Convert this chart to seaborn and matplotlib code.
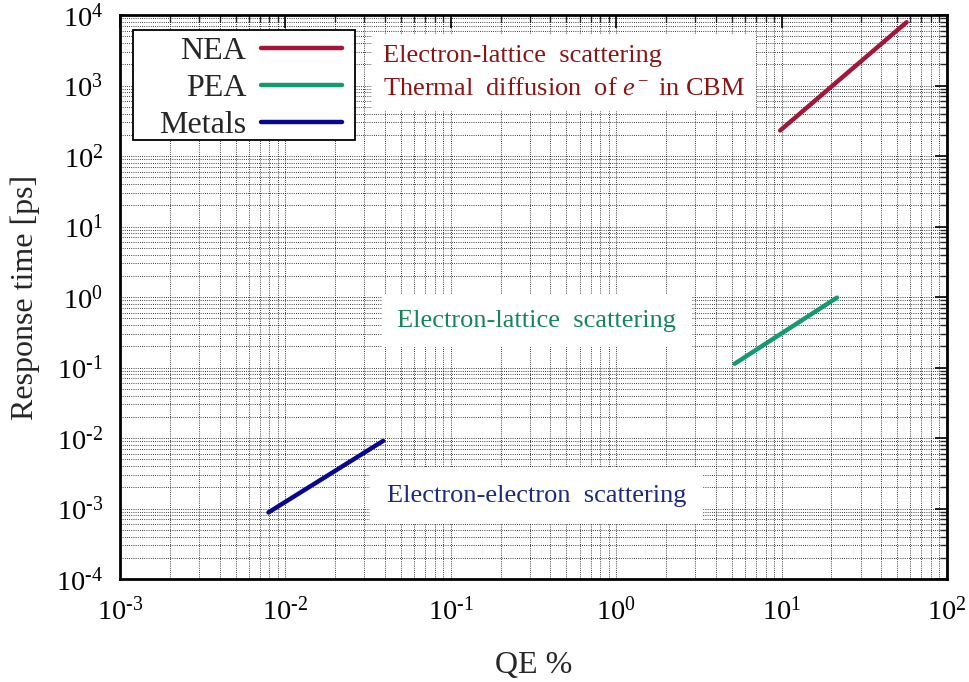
import numpy as np
import pandas as pd
import matplotlib
matplotlib.use("Agg")
import matplotlib.pyplot as plt
import seaborn as sns
from matplotlib.patches import Rectangle
from matplotlib.ticker import LogLocator, FuncFormatter, NullFormatter

# Response time vs. quantum efficiency for three photocathode classes (line endpoints)
materials = ["NEA", "NEA", "PEA", "PEA", "Metals", "Metals"]
qe_percent = [9.8, 57.0, 5.2, 21.6, 0.0079, 0.039]
response_ps = [230.0, 7900.0, 0.113, 0.98, 0.00088, 0.0091]

series_order = ["NEA", "PEA", "Metals"]
series_colors = {"NEA": "#a31638", "PEA": "#149a72", "Metals": "#07078f"}

x_ticks = [1e-3, 1e-2, 1e-1, 1e0, 1e1, 1e2]
y_ticks = [1e-4, 1e-3, 1e-2, 1e-1, 1e0, 1e1, 1e2, 1e3, 1e4]

df = pd.DataFrame({"material": materials, "qe": qe_percent, "time": response_ps})

sns.set_theme(style="white")
plt.rcParams["font.family"] = ["Liberation Serif", "DejaVu Serif"]
plt.rcParams["mathtext.fontset"] = "custom"
plt.rcParams["mathtext.rm"] = "Liberation Serif"
plt.rcParams["mathtext.it"] = "Liberation Serif:italic"
plt.rcParams["mathtext.bf"] = "Liberation Serif:bold"

fig = plt.figure(figsize=(9.69, 6.82), dpi=100)
ax = fig.add_axes([120 / 969, 1 - 579 / 682, 827 / 969, 564 / 682])

sns.lineplot(data=df, x="qe", y="time", hue="material", hue_order=series_order,
             palette=series_colors, linewidth=3.2, ax=ax, estimator=None,
             sort=False, units="material")

ax.set_xscale("log")
ax.set_yscale("log")
ax.set_xlim(x_ticks[0], x_ticks[-1])
ax.set_ylim(y_ticks[0], y_ticks[-1])
ax.set_xticks(x_ticks)
ax.set_yticks(y_ticks)
ax.xaxis.set_minor_locator(LogLocator(base=10, subs=np.arange(2, 10), numticks=20))
ax.yaxis.set_minor_locator(LogLocator(base=10, subs=np.arange(2, 10), numticks=20))
ax.xaxis.set_minor_formatter(NullFormatter())
ax.yaxis.set_minor_formatter(NullFormatter())


def pow10(v, _pos):
    e = int(round(np.log10(v)))
    return r"10$^{\mathrm{%d}}$" % e if e >= 0 else r"10$^{\text{-}%d}$" % (-e)


ax.xaxis.set_major_formatter(FuncFormatter(pow10))
ax.yaxis.set_major_formatter(FuncFormatter(pow10))

ax.grid(True, which="both", color="black", linestyle=(0, (1, 1.6)), linewidth=0.6)
ax.set_axisbelow(True)
for s in ax.spines.values():
    s.set_color("black")
    s.set_linewidth(2.0)

ax.tick_params(which="major", direction="in", length=9, width=1.2, top=True,
               right=True, labelsize=20.5, colors="black")
ax.tick_params(which="minor", direction="in", length=5, width=1.0, top=True,
               right=True)
ax.tick_params(axis="x", which="major", pad=13)
ax.tick_params(axis="y", which="major", pad=12)

ax.set_xlabel("QE %", fontsize=23, labelpad=18)
ax.set_ylabel("Response time [ps]", fontsize=23, labelpad=12)

# legend frame drawn as a plain box; entries placed inside it
ax.add_patch(Rectangle((0.0157, 0.7784), 0.2684, 0.195, transform=ax.transAxes,
                       facecolor="white", edgecolor="black", linewidth=1.3,
                       zorder=4))
leg = ax.legend(loc="upper right", bbox_to_anchor=(0.2684, 0.961), markerfirst=False,
                fontsize=23, frameon=False, handlelength=2.55, handletextpad=0.45,
                labelspacing=0.23, borderpad=0.0, borderaxespad=0)
leg.set_zorder(5)
for t in leg.get_texts():
    t.set_ha("right")
leg._legend_box.align = "right"

box = dict(facecolor="white", edgecolor="none", pad=8)
ax.text(0.318, 0.898,
        "Electron-lattice  scattering\nThermal  diffusion  of $e^-$ in CBM",
        transform=ax.transAxes, ha="left", va="center", fontsize=19,
        color="#8b1414", linespacing=1.62, bbox=box)
ax.text(0.504, 0.458, "Electron-lattice  scattering", transform=ax.transAxes,
        ha="center", va="center", fontsize=19, color="#13875a",
        bbox=dict(facecolor="white", edgecolor="none", pad=11))
ax.text(0.504, 0.147, "Electron-electron  scattering", transform=ax.transAxes,
        ha="center", va="center", fontsize=19, color="#1a2a80",
        bbox=dict(facecolor="white", edgecolor="none", pad=12))

fig.savefig("out.png", dpi=100)
